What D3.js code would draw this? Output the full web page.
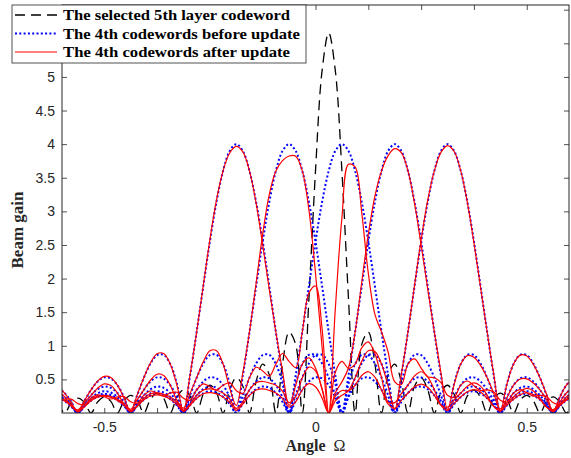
<!DOCTYPE html>
<html><head><meta charset="utf-8">
<script src="https://cdnjs.cloudflare.com/ajax/libs/d3/7.8.5/d3.min.js"></script>
<style>html,body{margin:0;padding:0;background:#fff}svg{display:block}</style>
</head><body>
<svg id="chart" width="571" height="458"></svg>
<script>
// ---------- data ----------
const omega = [-0.6094,-0.5938,-0.5781,-0.5625,-0.5469,-0.5313,-0.5156,-0.5,-0.4844,-0.4688,-0.4531,-0.4375,-0.4219,-0.4063,-0.3906,-0.375,-0.3594,-0.3438,-0.3281,-0.3125,-0.2969,-0.2813,-0.2656,-0.25,-0.2344,-0.2188,-0.2031,-0.1875,-0.1719,-0.1563,-0.1406,-0.125,-0.1094,-0.0938,-0.0781,-0.0625,-0.0469,-0.0313,-0.0156,0,0.0156,0.0313,0.0469,0.0625,0.0781,0.0938,0.1094,0.125,0.1406,0.1563,0.1719,0.1875,0.2031,0.2188,0.2344,0.25,0.2656,0.2813,0.2969,0.3125,0.3281,0.3438,0.3594,0.375,0.3906,0.4063,0.4219,0.4375,0.4531,0.4688,0.4844,0.5,0.5156,0.5313,0.5469,0.5625,0.5781,0.5938,0.6094];

const selected5th = [0.148,0,0.153,0.22,0.159,0,0.165,0.239,0.173,0,0.181,0.263,0.191,0,0.203,0.297,0.217,0,0.234,0.344,0.254,0,0.278,0.413,0.308,0,0.347,0.525,0.399,0,0.469,0.728,0.571,0,0.731,1.205,1.021,0,1.699,3.602,5.093,5.657,5.093,3.602,1.699,0,1.021,1.205,0.731,0,0.571,0.728,0.469,0,0.399,0.525,0.347,0,0.308,0.413,0.278,0,0.254,0.344,0.234,0,0.217,0.297,0.203,0,0.191,0.263,0.181,0,0.173,0.239,0.165,0,0.159];

const before1 = [0.375,0.297,0.166,0,0.179,0.344,0.469,0.53,0.514,0.414,0.236,0,0.266,0.525,0.736,0.861,0.866,0.728,0.437,0,0.56,1.205,1.887,2.551,3.14,3.602,3.898,4,
 3.898,3.602,3.14,2.551,1.887,1.205,0.56,0,0.437,0.728,0.866,0.861,0.736,0.525,0.266,0,0.236,0.414,0.514,0.53,0.469,0.344,0.179,0,0.166,0.297,0.375,0.394,0.354,0.263,0.139,0,0.132,0.239,0.305,0.323,0.293,0.22,0.117,0,0.113,0.206,0.266,0.284,0.259,0.196,0.105,0,0.103,0.188,0.243];
const before2 = [0.305,0.239,0.132,0,0.139,0.263,0.354,0.394,0.375,0.297,0.166,0,0.179,0.344,0.469,0.53,0.514,0.414,0.236,0,0.266,0.525,0.736,0.861,0.866,0.728,0.437,0,0.56,1.205,1.887,2.551,3.14,3.602,3.898,4,
 3.898,3.602,3.14,2.551,1.887,1.205,0.56,0,0.437,0.728,0.866,0.861,0.736,0.525,0.266,0,0.236,0.414,0.514,0.53,0.469,0.344,0.179,0,0.166,0.297,0.375,0.394,0.354,0.263,0.139,0,0.132,0.239,0.305,0.323,0.293,0.22,0.117,0,0.113,0.206,0.266];
const before3 = [0.266,0.206,0.113,0,0.117,0.22,0.293,0.323,0.305,0.239,0.132,0,0.139,0.263,0.354,0.394,0.375,0.297,0.166,0,0.179,0.344,0.469,0.53,0.514,0.414,0.236,0,0.266,0.525,0.736,0.861,0.866,0.728,0.437,0,0.56,1.205,1.887,2.551,3.14,3.602,3.898,4,
 3.898,3.602,3.14,2.551,1.887,1.205,0.56,0,0.437,0.728,0.866,0.861,0.736,0.525,0.266,0,0.236,0.414,0.514,0.53,0.469,0.344,0.179,0,0.166,0.297,0.375,0.394,0.354,0.263,0.139,0,0.132,0.239,0.305];
const before4 = [0.243,0.188,0.103,0,0.105,0.196,0.259,0.284,0.266,0.206,0.113,0,0.117,0.22,0.293,0.323,0.305,0.239,0.132,0,0.139,0.263,0.354,0.394,0.375,0.297,0.166,0,0.179,0.344,0.469,0.53,0.514,0.414,0.236,0,0.266,0.525,0.736,0.861,0.866,0.728,0.437,0,0.56,1.205,1.887,2.551,3.14,3.602,3.898,4,
 3.898,3.602,3.14,2.551,1.887,1.205,0.56,0,0.437,0.728,0.866,0.861,0.736,0.525,0.266,0,0.236,0.414,0.514,0.53,0.469,0.344,0.179,0,0.166,0.297,0.375];
const before5 = [0.233,0.179,0.097,0,0.098,0.182,0.24,0.261,0.243,0.188,0.103,0,0.105,0.196,0.259,0.284,0.266,0.206,0.113,0,0.117,0.22,0.293,0.323,0.305,0.239,0.132,0,0.139,0.263,0.354,0.394,0.375,0.297,0.166,0,0.179,0.344,0.469,0.53,0.514,0.414,0.236,0,0.266,0.525,0.736,0.861,0.866,0.728,0.437,0,0.56,1.205,1.887,2.551,3.14,3.602,3.898,4,
 3.898,3.602,3.14,2.551,1.887,1.205,0.56,0,0.437,0.728,0.866,0.861,0.736,0.525,0.266,0,0.236,0.414,0.514];

const after1 = [0.388,0.297,0.153,0.02,0.185,0.344,0.475,0.546,0.529,0.414,0.221,0.025,0.273,0.525,0.744,0.881,0.885,0.728,0.417,0.032,0.569,1.205,1.897,2.577,3.166,3.602,3.868,3.966,3.884,3.602,3.124,2.503,1.838,1.205,0.623,0.112,0.41,0.728,0.819,0.668,0.35,0,0.249,0.334,0.33,0.414,0.557,0.614,0.532,0.344,0.132,0.068,0.187,0.297,0.391,0.43,0.384,0.263,0.113,0.038,0.144,0.239,0.315,0.347,0.313,0.22,0.099,0.028,0.122,0.206,0.273,0.301,0.274,0.196,0.09,0.022,0.109,0.188,0.249];
const after2 = [0.334,0.239,0.103,0.047,0.155,0.263,0.369,0.432,0.41,0.297,0.131,0.056,0.198,0.344,0.487,0.577,0.557,0.414,0.191,0.073,0.291,0.525,0.761,0.926,0.927,0.728,0.37,0.112,0.597,1.205,1.927,2.662,3.253,3.602,3.755,3.823,3.82,3.602,3.02,2.08,0.978,0,0.607,0.767,0.665,0.728,0.97,1.058,0.882,0.525,0.161,0.155,0.289,0.414,0.552,0.614,0.538,0.344,0.121,0.088,0.197,0.297,0.399,0.449,0.4,0.263,0.098,0.063,0.154,0.239,0.323,0.365,0.329,0.22,0.084,0.051,0.131,0.206,0.28];
const after3 = [0.182,0.206,0.207,0.14,0.122,0.22,0.271,0.241,0.208,0.239,0.243,0.168,0.146,0.263,0.327,0.293,0.253,0.297,0.309,0.219,0.19,0.344,0.433,0.391,0.341,0.414,0.449,0.334,0.289,0.525,0.68,0.626,0.548,0.728,0.885,0.767,0.676,1.205,1.78,1.89,1.25,0,1.55,2.9,3.7,3.66,2.98,2.079,1.468,1.205,0.906,0.463,0.424,0.728,0.804,0.668,0.539,0.525,0.454,0.263,0.235,0.414,0.476,0.406,0.336,0.344,0.311,0.189,0.167,0.297,0.348,0.3,0.251,0.263,0.244,0.152,0.134,0.239,0.282];
const after4 = [0.226,0.188,0.121,0.028,0.099,0.196,0.251,0.263,0.245,0.206,0.135,0.034,0.11,0.22,0.284,0.298,0.279,0.239,0.16,0.044,0.13,0.263,0.342,0.359,0.339,0.297,0.208,0.068,0.166,0.344,0.449,0.469,0.447,0.414,0.325,0.155,0.247,0.525,0.683,0.626,0.362,0,0.302,0.463,0.674,1.205,1.941,2.662,3.227,3.602,3.83,3.934,3.875,3.602,3.121,2.503,1.846,1.205,0.596,0.053,0.424,0.728,0.854,0.831,0.709,0.525,0.292,0.038,0.227,0.414,0.505,0.507,0.447,0.344,0.2,0.031,0.159,0.297,0.368];
const after5 = [0.223,0.179,0.108,0.016,0.094,0.182,0.235,0.249,0.232,0.188,0.115,0.019,0.1,0.196,0.253,0.269,0.251,0.206,0.129,0.025,0.111,0.22,0.286,0.303,0.284,0.239,0.156,0.038,0.131,0.263,0.342,0.359,0.337,0.297,0.217,0.088,0.165,0.344,0.436,0.391,0.222,0,0.179,0.263,0.334,0.525,0.768,0.926,0.916,0.728,0.399,0.053,0.574,1.205,1.898,2.577,3.164,3.602,3.877,3.979,3.89,3.602,3.133,2.532,1.871,1.205,0.574,0.022,0.431,0.728,0.861,0.848,0.724,0.525,0.278,0.017,0.232,0.414,0.509];

const xTickValues = [-0.5,-0.375,-0.25,-0.125,0,0.125,0.25,0.375,0.5];
const xTickLabels = ["-0.5","","","","0","","","","0.5"];
const yTickValues = [0.5,1,1.5,2,2.5,3,3.5,4,4.5,5,5.5,6];
const legendLabels = ["The selected 5th layer codeword","The 4th codewords before update","The 4th codewords after update"];

// sanity check
[selected5th,before1,before2,before3,before4,before5,after1,after2,after3,after4,after5].forEach((a,i)=>{
  if (a.length !== omega.length) throw new Error("length mismatch in series "+i+": "+a.length);
});

// ---------- drawing ----------
const W = 571, H = 458;
const L = 62, R = 569, T = 5, B = 413;
const axisColor = "#262626";
const x = d3.scaleLinear().domain([-0.6, 0.6]).range([L, R]);
const y = d3.scaleLinear().domain([0, 6.07]).range([B, T]);

const svg = d3.select("#chart");
svg.append("rect").attr("width", W).attr("height", H).attr("fill", "#fff");
svg.append("defs").append("clipPath").attr("id", "clip")
  .append("rect").attr("x", L).attr("y", T).attr("width", R - L).attr("height", B - T);

const line = d3.line()
  .x((d, i) => x(omega[i]))
  .y(d => y(d))
  .curve(d3.curveCatmullRom.alpha(0.5));

const plot = svg.append("g").attr("clip-path", "url(#clip)");

plot.append("path").datum(selected5th).attr("d", line)
  .attr("fill", "none").attr("stroke", "#000").attr("stroke-width", 1.3)
  .attr("stroke-dasharray", "10,6");

[before1, before2, before3, before4, before5].forEach(s => {
  plot.append("path").datum(s).attr("d", line)
    .attr("fill", "none").attr("stroke", "#0000ff").attr("stroke-width", 2)
    .attr("stroke-dasharray", "2,2.3");
});

[after1, after2, after3, after4, after5].forEach(s => {
  plot.append("path").datum(s).attr("d", line)
    .attr("fill", "none").attr("stroke", "#ff0000").attr("stroke-width", 1.2);
});

// axes (ticks point inward, box on)
const fontTick = "'Liberation Sans', Arial, sans-serif";
const xb = svg.append("g").attr("transform", `translate(0,${B})`)
  .call(d3.axisBottom(x).tickValues(xTickValues).tickSizeInner(-5).tickSizeOuter(0).tickPadding(9)
    .tickFormat((d, i) => xTickLabels[i]));
const xt = svg.append("g").attr("transform", `translate(0,${T})`)
  .call(d3.axisTop(x).tickValues(xTickValues).tickSizeInner(-5).tickSizeOuter(0).tickFormat(""));
const yl = svg.append("g").attr("transform", `translate(${L},0)`)
  .call(d3.axisLeft(y).tickValues(yTickValues).tickSizeInner(-5).tickSizeOuter(0).tickPadding(7)
    .tickFormat(d3.format("~g")));
const yr = svg.append("g").attr("transform", `translate(${R},0)`)
  .call(d3.axisRight(y).tickValues(yTickValues).tickSizeInner(-5).tickSizeOuter(0).tickFormat(""));

[xb, xt, yl, yr].forEach(g => {
  g.select(".domain").remove();
  g.selectAll(".tick line").attr("stroke", axisColor).attr("stroke-width", 0.8);
  g.selectAll(".tick text").attr("fill", axisColor).style("font-family", fontTick).style("font-size", "14px");
});

svg.append("rect").attr("x", L).attr("y", T).attr("width", R - L).attr("height", B - T)
  .attr("fill", "none").attr("stroke", axisColor).attr("stroke-width", 1);

// axis labels
const serif = "'Liberation Serif', 'Times New Roman', serif";
const xl = svg.append("text").attr("x", (L + R) / 2).attr("y", 451)
  .attr("text-anchor", "middle").style("font-family", serif).style("font-size", "16px")
  .attr("fill", axisColor);
xl.append("tspan").style("font-weight", "bold").text("Angle ");
xl.append("tspan").text("\u00A0\u03A9");

svg.append("text").attr("transform", "translate(23,230) rotate(-90)")
  .attr("text-anchor", "middle").style("font-family", serif).style("font-size", "17px")
  .style("font-weight", "bold").attr("fill", axisColor).text("Beam gain");

// legend
const lg = svg.append("g");
lg.append("rect").attr("x", 12).attr("y", 5).attr("width", 294).attr("height", 58)
  .attr("fill", "#fff").attr("stroke", axisColor).attr("stroke-width", 0.8);
const rows = [15, 33.5, 52];
const styles = [
  {stroke: "#000", w: 1.3, dash: "10,6"},
  {stroke: "#0000ff", w: 2, dash: "2,2.3"},
  {stroke: "#ff0000", w: 1.2, dash: null}
];
const textWidths = [227, 237, 227];
legendLabels.forEach((t, i) => {
  const l = lg.append("line").attr("x1", 15).attr("x2", 57).attr("y1", rows[i]).attr("y2", rows[i])
    .attr("stroke", styles[i].stroke).attr("stroke-width", styles[i].w);
  if (styles[i].dash) l.attr("stroke-dasharray", styles[i].dash);
  lg.append("text").attr("x", 63).attr("y", rows[i]).attr("dy", "0.35em")
    .style("font-family", serif).style("font-size", "15.5px").style("font-weight", "bold")
    .attr("fill", "#000").attr("textLength", textWidths[i]).attr("lengthAdjust", "spacingAndGlyphs")
    .text(t);
});
</script>
</body></html>
